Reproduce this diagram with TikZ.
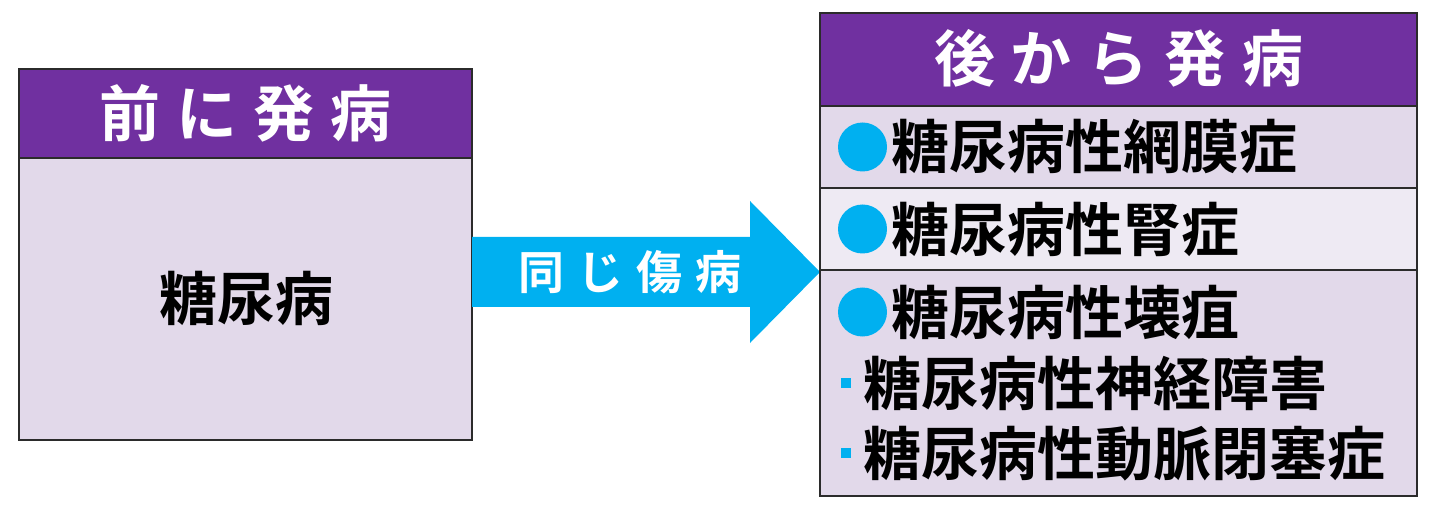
\documentclass[tikz,border=0pt]{standalone}
\usepackage{fontspec}
\newfontfamily\jpfont{Noto Sans CJK JP Bold}
\usetikzlibrary{calc}
\definecolor{headpurple}{HTML}{7030A0}
\definecolor{lavender}{HTML}{E2D9EA}
\definecolor{lavlight}{HTML}{EEEAF3}
\definecolor{arrowcyan}{HTML}{00B0F0}
\definecolor{framegray}{HTML}{2B2B2B}

\begin{document}
\begin{tikzpicture}[x=0.5pt, y=-0.5pt,
    frame/.style={draw=framegray, line width=1pt},
    title/.style={text=white, inner sep=0pt, font=\jpfont\fontsize{30.5}{32}\selectfont},
    entry/.style={anchor=west, inner sep=0pt, font=\jpfont\fontsize{29}{31}\selectfont}]
    \useasboundingbox (0,0) rectangle (1440,513);

    % Before: left box
    \fill[lavender] (19,69) rectangle (472,440);
    \fill[headpurple] (19,69) rectangle (472,158);
    \draw[frame] (19,158) -- (472,158);
    \draw[frame] (19,69) rectangle (472,440);
    \node[title] (before) at (245.5,113) {前\hspace{8pt}に\hspace{8pt}発\hspace{8pt}病};
    \node[entry, anchor=center] (dm) at (246,298) {糖尿病};

    % Block arrow between the boxes
    \coordinate (arrowfrom) at (472,272);
    \coordinate (arrowto) at (820,272);
    \fill[arrowcyan] ($(arrowfrom)+(0,-35)$) -- ($(arrowto)+(-70,-35)$) -- ($(arrowto)+(-70,-71)$)
        -- (arrowto) -- ($(arrowto)+(-70,71)$) -- ($(arrowto)+(-70,35)$) -- ($(arrowfrom)+(0,35)$) -- cycle;
    \node[title, font=\jpfont\fontsize{23}{25}\selectfont] (same) at (630,272) {同\hspace{6.5pt}じ\hspace{6.5pt}傷\hspace{6.5pt}病};

    % After: right box
    \fill[lavender] (820,13) rectangle (1417,496);
    \fill[lavlight] (820,188) rectangle (1417,270);
    \fill[headpurple] (820,13) rectangle (1417,106);
    \foreach \y in {106,188,270}
        \draw[frame] (820,\y) -- (1417,\y);
    \draw[frame] (820,13) rectangle (1417,496);
    \node[title] (after) at (1118.5,58) {後\hspace{8pt}か\hspace{8pt}ら\hspace{8pt}発\hspace{8pt}病};

    % Bullets
    \foreach \y in {147,229,312}
        \fill[arrowcyan] (862.5,\y) circle (12.25pt);
    \foreach \y in {383,453}
        \fill[arrowcyan] (841,\y-5) rectangle (851,\y+5);

    % Complications
    \node[entry] (retino) at (891,147) {糖尿病性網膜症};
    \node[entry] (nephro) at (891,229) {糖尿病性腎症};
    \node[entry] (gangrene) at (891,312) {糖尿病性壊疽};
    \node[entry] (neuro) at (863,383) {糖尿病性神経障害};
    \node[entry] (pad) at (863,454) {糖尿病性動脈閉塞症};
\end{tikzpicture}
\end{document}
